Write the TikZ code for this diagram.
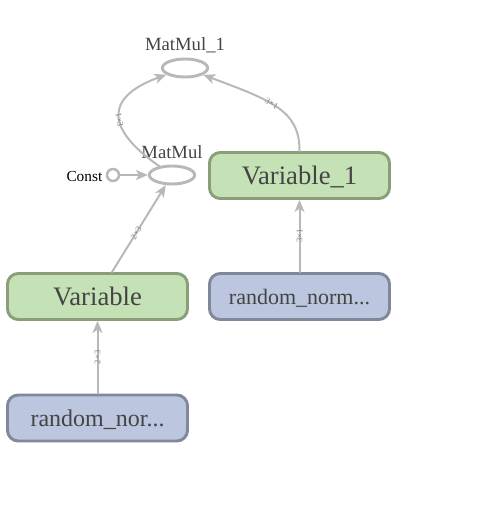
\documentclass[tikz,border=0pt]{standalone}
\usepackage{fontspec}
\setmainfont{Liberation Serif}
\usetikzlibrary{shapes.geometric,arrows.meta}
\definecolor{edgegray}{RGB}{184,184,184}
\definecolor{txtgray}{RGB}{68,68,68}
\definecolor{varfill}{RGB}{197,226,183}
\definecolor{vardraw}{RGB}{138,158,122}
\definecolor{rndfill}{RGB}{188,198,222}
\definecolor{rnddraw}{RGB}{128,136,153}
\begin{document}
\begin{tikzpicture}[x=0.75pt, y=-0.75pt, line join=round, line cap=round,
	>={Stealth[length=9pt,width=7.5pt,inset=2.5pt]},
	opbox/.style={rounded corners=8pt, line width=2.2pt, minimum width=135pt, minimum height=34.5pt, text=txtgray, inner sep=0pt, text depth=0pt},
	varbox/.style={opbox, fill=varfill, draw=vardraw},
	rndbox/.style={opbox, fill=rndfill, draw=rnddraw},
	opell/.style={ellipse, draw=edgegray, fill=white, line width=2.2pt, minimum width=34pt, minimum height=13.5pt, inner sep=0pt},
	flow/.style={->, draw=edgegray, line width=1.5pt},
	dims/.style={sloped, font=\fontsize{6.5}{7}\selectfont, text=gray, inner sep=0.5pt}]
	\useasboundingbox (0,0) rectangle (502,528);
	\node[opell] (mm1) at (185,68) {};
	\node[font=\fontsize{14}{16}\selectfont, text=txtgray] at (185,45) {MatMul\_1};
	\node[opell] (mm) at (172,175) {};
	\node[font=\fontsize{14}{16}\selectfont, text=txtgray] at (172,152) {MatMul};
	\node[circle, draw=edgegray, fill=white, line width=1.9pt, minimum size=9pt, inner sep=0pt] (cst) at (113,175) {};
	\node[font=\fontsize{11.5}{13}\selectfont, anchor=east] at (107,176) {Const};
	\node[varbox, font=\fontsize{20}{22}\selectfont] (v1) at (299.5,175.5) {Variable\_1};
	\node[varbox, font=\fontsize{20}{22}\selectfont] (v) at (97.5,296.5) {Variable};
	\node[rndbox, font=\fontsize{16.5}{18}\selectfont] (r1) at (299.5,296.5) {random\_norm...};
	\node[rndbox, font=\fontsize{18}{20}\selectfont] (r) at (97.5,418) {random\_nor...};
	% edges
	\draw[flow] (r) -- node[dims] {2×3} (v);
	\draw[flow] (r1) -- node[dims] {3×1} (v1);
	\draw[flow] (v.north -| 112,0) -- node[dims, pos=0.45] {2×3} (mm);
	\draw[flow] (cst) -- (mm);
	\draw[flow] (mm) .. controls (100,125) and (110,95) .. node[dims, pos=0.42] {1×3} (mm1);
	\draw[flow] (v1.north) .. controls (300,110) and (270,100) .. node[dims, pos=0.55] {3×1} (mm1);
\end{tikzpicture}
\end{document}
